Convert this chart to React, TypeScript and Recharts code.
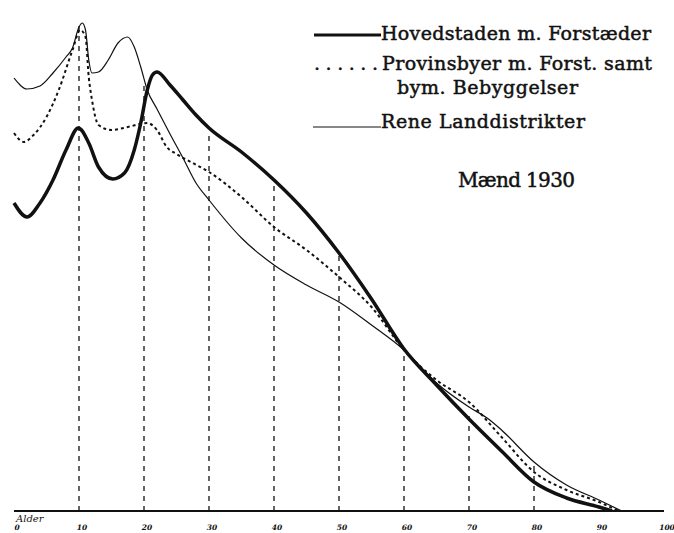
import { LineChart, Line, XAxis, YAxis, ReferenceLine } from "recharts";

// Hovedstaden m. Forstæder (thick)
const capitalAges = [0, 2, 4, 6, 8, 9.9, 11.5, 13, 15.2, 17, 18.5, 19.5, 20.5, 21.3, 22, 24, 26, 28, 30, 35, 40, 45, 50, 55, 60, 65, 70, 75, 80, 85, 90, 92];
const capitalValues = [61.6, 58.8, 61.6, 66.2, 72.2, 76.6, 73.6, 68.8, 66.4, 67.6, 72.2, 77.6, 84.2, 87.2, 87.8, 85.2, 82.2, 79.2, 76.6, 71.8, 66.2, 59.6, 51.6, 42.4, 32.4, 25.2, 18.4, 12, 5.8, 2.6, 0.8, 0];

// Provinsbyer m. Forst. samt bym. Bebyggelser (dotted)
const townAges = [0, 1.5, 3, 5, 7, 9, 10.2, 11, 11.5, 12, 13, 15, 17.5, 20.5, 22, 23.5, 25, 27.5, 30, 35, 40, 45, 50, 55, 60, 65, 70, 75, 80, 85, 90, 93];
const townValues = [75.6, 73.8, 75.2, 78.8, 84.6, 92.2, 96.2, 94.8, 86.8, 82.2, 77.2, 76.2, 76.8, 77.6, 76.2, 72.8, 71.4, 69.6, 67.8, 62.8, 56.8, 52.2, 46.8, 40.8, 32.2, 26.2, 21.8, 14.8, 7.8, 4.2, 1.8, 0];

// Rene Landdistrikter (thin)
const ruralAges = [0, 2, 4, 6, 8, 9, 10, 10.5, 11, 11.5, 12, 13, 14.5, 16, 17.5, 18.5, 19.5, 20.5, 22, 24, 26, 28, 30, 35, 40, 45, 50, 55, 60, 65, 70, 73, 75, 80, 85, 90, 93.5];
const ruralValues = [86.6, 84.4, 85, 87.6, 90.8, 92.6, 96.8, 97.6, 96.2, 90.2, 87.6, 87.8, 90.2, 93.6, 94.8, 92.8, 88.8, 84.2, 80.4, 75.4, 70.6, 65.6, 62.2, 54.6, 49.2, 45.2, 41.8, 37.2, 32.2, 25.6, 20.8, 18.4, 16.2, 9.8, 5.2, 2.2, 0];

// dashed verticals at each decade
const guideAges = [10, 20, 30, 40, 50, 60, 70, 80];
const guideHeights = [97, 85.6, 75, 65.2, 51.2, 32.2, 19.2, 9.8];

const tickAges = [0, 10, 20, 30, 40, 50, 60, 70, 80, 90, 100];

const toRows = (ages: number[], values: number[]) => ages.map((age, i) => ({ age, v: values[i] }));

const serif = "'DejaVu Serif', 'Liberation Serif', serif";

const AgeTick = ({ x, y, payload }: { x?: number; y?: number; payload?: { value: number } }) => (
  <text x={(x ?? 0) + 3} y={(y ?? 0) + 11} textAnchor="middle" fontSize={7.5} fontStyle="italic" fontWeight="bold" fontFamily={serif} fill="#111">
    {payload?.value}
  </text>
);

export default function App() {
  return (
    <div style={{ position: "absolute", left: 0, top: 0, width: 674, height: 533, background: "#fff" }}>
      <LineChart width={674} height={533} margin={{ top: 11, right: 10, left: 14, bottom: 0 }}>
        <XAxis
          dataKey="age"
          type="number"
          domain={[0, 100]}
          ticks={tickAges}
          height={22}
          tickLine={false}
          axisLine={{ stroke: "#111", strokeWidth: 2 }}
          tick={<AgeTick />}
          interval={0}
        />
        <YAxis type="number" domain={[0, 100]} width={0} tick={false} tickLine={false} axisLine={{ stroke: "#111", strokeWidth: 1.5 }} allowDataOverflow />
        {guideAges.map((age, i) => (
          <ReferenceLine
            key={age}
            segment={[{ x: age, y: 0 }, { x: age, y: guideHeights[i] }]}
            stroke="#111"
            strokeWidth={1.3}
            strokeDasharray="5 5"
          />
        ))}
        <Line data={toRows(ruralAges, ruralValues)} dataKey="v" type="monotone" stroke="#111" strokeWidth={1.2} dot={false} isAnimationActive={false} />
        <Line data={toRows(townAges, townValues)} dataKey="v" type="monotone" stroke="#111" strokeWidth={2} strokeDasharray="3 3" dot={false} isAnimationActive={false} />
        <Line data={toRows(capitalAges, capitalValues)} dataKey="v" type="monotone" stroke="#111" strokeWidth={3.5} dot={false} isAnimationActive={false} />
      </LineChart>
      <svg width={674} height={533} style={{ position: "absolute", left: 0, top: 0, pointerEvents: "none" }}>
        <g fontFamily={serif} fill="#111" stroke="#111" strokeWidth={0.5} fontSize={19}>
          <line x1={314} x2={381} y1={35} y2={35} strokeWidth={3} />
          <text x={381} y={40} textLength={270} lengthAdjust="spacing">Hovedstaden m. Forstæder</text>
          <text x={314} y={70} textLength={64} lengthAdjust="spacing">......</text>
          <text x={382} y={70} textLength={270} lengthAdjust="spacing">Provinsbyer m. Forst. samt</text>
          <text x={397} y={94} textLength={181} lengthAdjust="spacing">bym. Bebyggelser</text>
          <line x1={313} x2={381} y1={127} y2={127} strokeWidth={1} />
          <text x={381} y={128} textLength={204} lengthAdjust="spacing">Rene Landdistrikter</text>
          <text x={458} y={187} fontSize={20} textLength={117} lengthAdjust="spacing">Mænd 1930</text>
        </g>
        <text x={16} y={522} fontSize={10} fontStyle="italic" fontFamily={serif} fill="#111">Alder</text>
      </svg>
    </div>
  );
}
